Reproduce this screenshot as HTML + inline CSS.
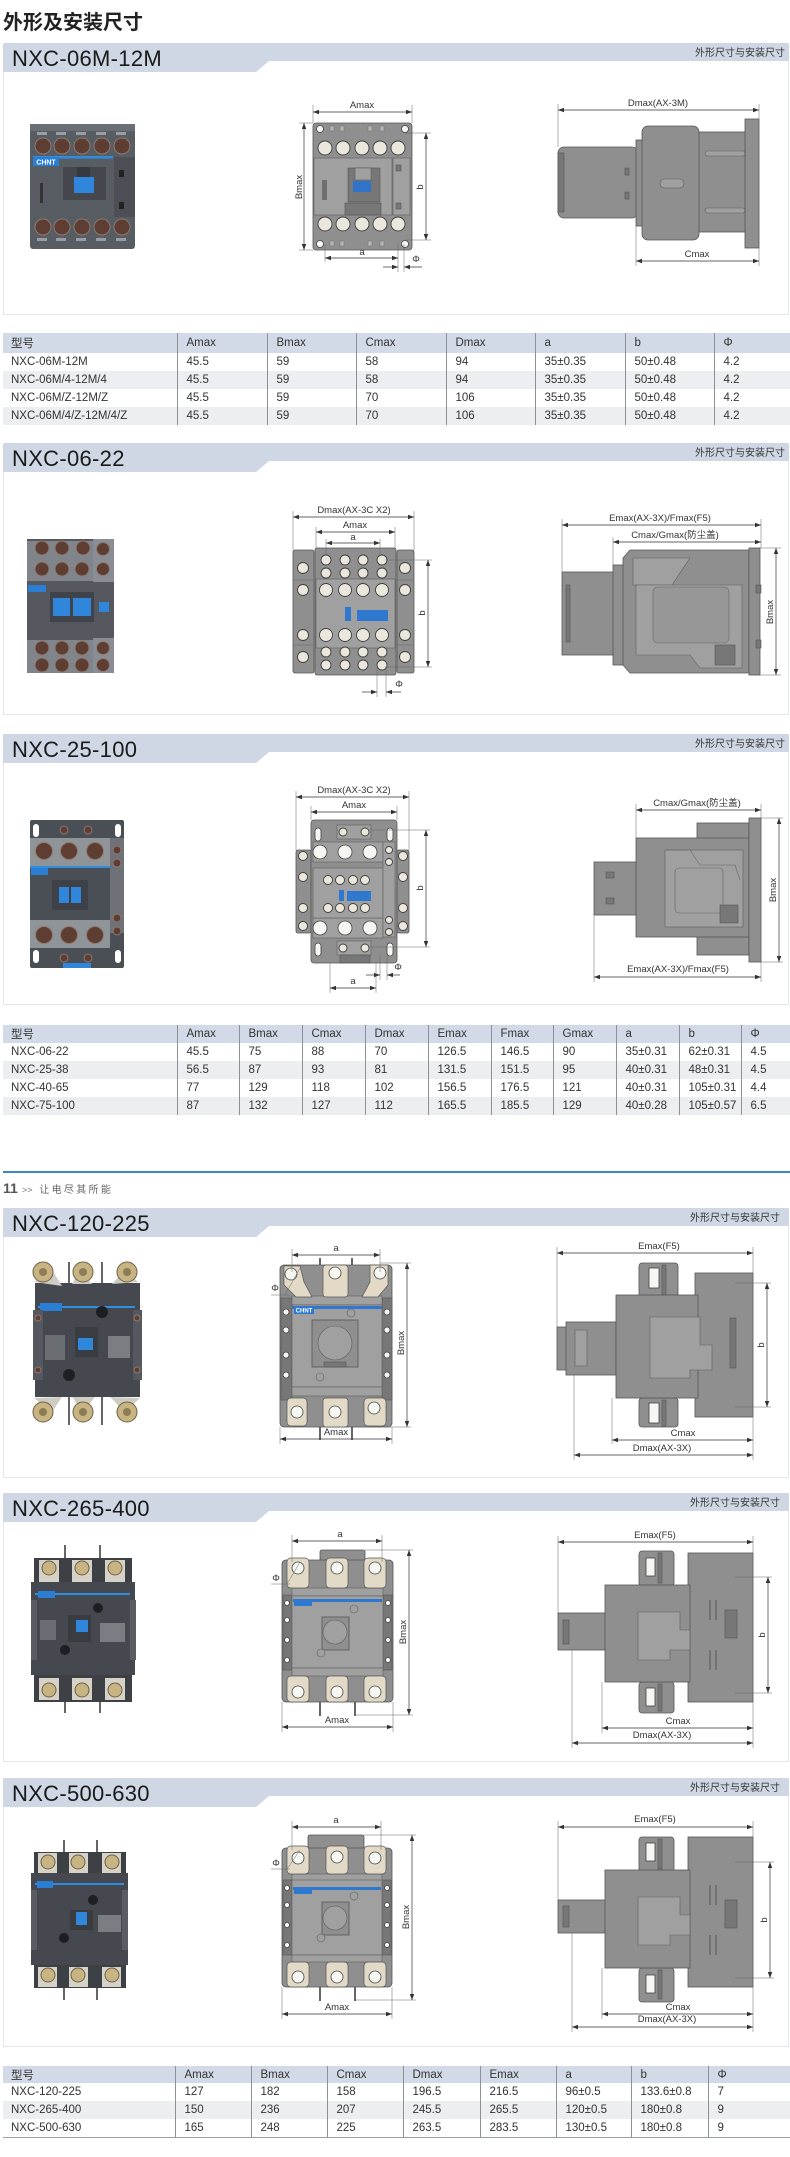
<!DOCTYPE html>
<html><head><meta charset="utf-8">
<style>
*{margin:0;padding:0;box-sizing:border-box}
html,body{width:790px;height:2157px;background:#fff;overflow:hidden}
body{position:relative;font-family:"Liberation Sans","Noto Sans CJK SC",sans-serif;color:#333}
.h1{position:absolute;left:3px;top:9px;font-size:20px;font-weight:bold;line-height:24px;color:#222;font-family:"Noto Sans CJK SC","WenQuanYi Zen Hei",sans-serif}
.sec{position:absolute;left:3px;width:786px;border:1px solid #e3e6ea;border-top:none;background:#fff}
.band{position:absolute;left:-1px;right:-1px;top:0;height:18px;background:#ced7e3;border-radius:2px 2px 0 0}
.tab{position:absolute;left:-1px;top:18px;width:266px;height:11px;background:#ced7e3;clip-path:polygon(0 0,266px 0,253px 11px,0 11px)}
.nm{position:absolute;left:8px;top:5px;font-size:22px;line-height:22px;color:#1a1a1a;letter-spacing:.3px;white-space:nowrap;font-family:"Liberation Sans",sans-serif}
.lb{position:absolute;right:3px;top:3px;font-size:10px;line-height:12px;color:#333;font-family:"Noto Sans CJK SC",sans-serif;white-space:nowrap}
table{position:absolute;left:3px;border-collapse:collapse;font-size:11.5px;color:#333;table-layout:fixed}
td{padding:0 0 0 9px;white-space:nowrap;border-left:1px solid #8c9197;vertical-align:middle;overflow:hidden}
td:first-child{border-left:none;padding-left:8px}
tr.hd td{background:#d1dae6}
tr.g td{background:#eceef1}
.cj{font-family:"Noto Sans CJK SC",sans-serif}
.foot{position:absolute;left:3px;top:1180px;white-space:nowrap;color:#666}
svg{position:absolute;left:0;top:0}
</style></head>
<body>
<div class="h1">外形及安装尺寸</div>

<div class="sec" style="top:43px;height:272px"><div class="band"></div><div class="tab"></div><div class="nm">NXC-06M-12M</div><div class="lb">外形尺寸与安装尺寸</div></div>
<div class="sec" style="top:443px;height:272px"><div class="band"></div><div class="tab"></div><div class="nm">NXC-06-22</div><div class="lb">外形尺寸与安装尺寸</div></div>
<div class="sec" style="top:734px;height:271px"><div class="band"></div><div class="tab"></div><div class="nm">NXC-25-100</div><div class="lb">外形尺寸与安装尺寸</div></div>
<div class="sec" style="top:1208px;height:270px"><div class="band"></div><div class="tab"></div><div class="nm">NXC-120-225</div><div class="lb" style="right:8px">外形尺寸与安装尺寸</div></div>
<div class="sec" style="top:1493px;height:269px"><div class="band"></div><div class="tab"></div><div class="nm">NXC-265-400</div><div class="lb" style="right:8px">外形尺寸与安装尺寸</div></div>
<div class="sec" style="top:1778px;height:269px"><div class="band"></div><div class="tab"></div><div class="nm">NXC-500-630</div><div class="lb" style="right:8px">外形尺寸与安装尺寸</div></div>

<table style="top:333px;width:787px">
<colgroup><col style="width:174px"><col style="width:90px"><col style="width:89px"><col style="width:90px"><col style="width:89px"><col style="width:90px"><col style="width:89px"><col style="width:76px"></colgroup>
<tr class="hd" style="height:20px"><td class="cj">型号</td><td>Amax</td><td>Bmax</td><td>Cmax</td><td>Dmax</td><td>a</td><td>b</td><td>Φ</td></tr>
<tr style="height:18px"><td>NXC-06M-12M</td><td>45.5</td><td>59</td><td>58</td><td>94</td><td>35±0.35</td><td>50±0.48</td><td>4.2</td></tr>
<tr class="g" style="height:18px"><td>NXC-06M/4-12M/4</td><td>45.5</td><td>59</td><td>58</td><td>94</td><td>35±0.35</td><td>50±0.48</td><td>4.2</td></tr>
<tr style="height:18px"><td>NXC-06M/Z-12M/Z</td><td>45.5</td><td>59</td><td>70</td><td>106</td><td>35±0.35</td><td>50±0.48</td><td>4.2</td></tr>
<tr class="g" style="height:18px"><td>NXC-06M/4/Z-12M/4/Z</td><td>45.5</td><td>59</td><td>70</td><td>106</td><td>35±0.35</td><td>50±0.48</td><td>4.2</td></tr>
</table>

<table style="top:1025px;width:787px">
<colgroup><col style="width:174px"><col style="width:62px"><col style="width:63px"><col style="width:63px"><col style="width:63px"><col style="width:63px"><col style="width:62px"><col style="width:63px"><col style="width:63px"><col style="width:62px"><col style="width:49px"></colgroup>
<tr class="hd" style="height:18px"><td class="cj">型号</td><td>Amax</td><td>Bmax</td><td>Cmax</td><td>Dmax</td><td>Emax</td><td>Fmax</td><td>Gmax</td><td>a</td><td>b</td><td>Φ</td></tr>
<tr style="height:18px"><td>NXC-06-22</td><td>45.5</td><td>75</td><td>88</td><td>70</td><td>126.5</td><td>146.5</td><td>90</td><td>35±0.31</td><td>62±0.31</td><td>4.5</td></tr>
<tr class="g" style="height:18px"><td>NXC-25-38</td><td>56.5</td><td>87</td><td>93</td><td>81</td><td>131.5</td><td>151.5</td><td>95</td><td>40±0.31</td><td>48±0.31</td><td>4.5</td></tr>
<tr style="height:18px"><td>NXC-40-65</td><td>77</td><td>129</td><td>118</td><td>102</td><td>156.5</td><td>176.5</td><td>121</td><td>40±0.31</td><td>105±0.31</td><td>4.4</td></tr>
<tr class="g" style="height:18px"><td>NXC-75-100</td><td>87</td><td>132</td><td>127</td><td>112</td><td>165.5</td><td>185.5</td><td>129</td><td>40±0.28</td><td>105±0.57</td><td>6.5</td></tr>
</table>

<table style="top:2066px;width:787px;border-bottom:1px solid #9aa0a6">
<colgroup><col style="width:172px"><col style="width:76px"><col style="width:76px"><col style="width:76px"><col style="width:77px"><col style="width:76px"><col style="width:75px"><col style="width:77px"><col style="width:82px"></colgroup>
<tr class="hd" style="height:17px"><td class="cj">型号</td><td>Amax</td><td>Bmax</td><td>Cmax</td><td>Dmax</td><td>Emax</td><td>a</td><td>b</td><td>Φ</td></tr>
<tr style="height:18px"><td>NXC-120-225</td><td>127</td><td>182</td><td>158</td><td>196.5</td><td>216.5</td><td>96±0.5</td><td>133.6±0.8</td><td>7</td></tr>
<tr class="g" style="height:18px"><td>NXC-265-400</td><td>150</td><td>236</td><td>207</td><td>245.5</td><td>265.5</td><td>120±0.5</td><td>180±0.8</td><td>9</td></tr>
<tr style="height:18px"><td>NXC-500-630</td><td>165</td><td>248</td><td>225</td><td>263.5</td><td>283.5</td><td>130±0.5</td><td>180±0.8</td><td>9</td></tr>
</table>

<div style="position:absolute;left:3px;top:1171px;width:787px;height:2px;background:#3a87c8"></div>
<div class="foot"><span style="font-size:14px;font-weight:bold;color:#555;font-family:'Liberation Sans',sans-serif">11</span><span style="font-size:9px;color:#777;margin-left:4px;font-family:'Liberation Sans',sans-serif">&gt;&gt;</span><span class="cj" style="font-size:10px;letter-spacing:2.3px;color:#666;margin-left:7px">让电尽其所能</span></div>

<svg width="790" height="2157" viewBox="0 0 790 2157" xmlns="http://www.w3.org/2000/svg">
<defs>
<marker id="a" viewBox="0 0 8 6" refX="8" refY="3" markerWidth="6" markerHeight="4.5" markerUnits="userSpaceOnUse" orient="auto-start-reverse"><path d="M0,0L8,3L0,6z" fill="#333"/></marker>
</defs>
<style>
.d{stroke:#333;stroke-width:.7;marker-start:url(#a);marker-end:url(#a)}
.d1{stroke:#333;stroke-width:.7;marker-end:url(#a)}
.e{stroke:#666;stroke-width:.5}
.b{fill:#8f8f8f;stroke:#555;stroke-width:.8}
.p{fill:#a0a0a0;stroke:#5e5e5e;stroke-width:.6}
.dk{fill:#777;stroke:#555;stroke-width:.6}
.t{fill:#ebe7dc;stroke:#3f3f3f;stroke-width:.9}
.w{fill:#f6f6f2;stroke:#444;stroke-width:.8}
.lg{fill:#e2dac6;stroke:#555;stroke-width:.7}
.l{font-family:"Liberation Sans","Noto Sans CJK SC",sans-serif;font-size:9.5px;fill:#333;text-anchor:middle}
.bl{fill:#2e78cf}
.br{fill:#5e3d33;stroke:#8d7a70;stroke-width:1}
.nut{fill:#c8b482;stroke:#6d6048;stroke-width:1}
.pin{stroke:#666;stroke-width:2}
</style>

<!-- ========== SECTION 1 ========== -->
<g>
<rect x="30" y="124" width="105" height="125" rx="3" fill="#585c63"/>
<rect x="30" y="124" width="105" height="7" fill="#6a6e75"/>
<g fill="#9a9ea4"><rect x="37" y="132" width="10" height="3"/><rect x="56" y="132" width="10" height="3"/><rect x="76" y="132" width="10" height="3"/><rect x="96" y="132" width="10" height="3"/><rect x="116" y="132" width="10" height="3"/>
<rect x="37" y="238" width="10" height="3"/><rect x="56" y="238" width="10" height="3"/><rect x="76" y="238" width="10" height="3"/><rect x="96" y="238" width="10" height="3"/><rect x="116" y="238" width="10" height="3"/></g>
<g class="br"><circle cx="43" cy="146" r="8"/><circle cx="62" cy="146" r="8"/><circle cx="82" cy="146" r="8"/><circle cx="102" cy="146" r="8"/><circle cx="122" cy="146" r="8"/>
<circle cx="43" cy="227" r="8"/><circle cx="62" cy="227" r="8"/><circle cx="82" cy="227" r="8"/><circle cx="102" cy="227" r="8"/><circle cx="122" cy="227" r="8"/></g>
<rect x="33" y="156" width="80" height="2.5" fill="#2f8ee0"/>
<rect x="33" y="157" width="26" height="9" fill="#2a7fd4"/><text x="46" y="164.5" font-size="7" fill="#fff" font-weight="bold" text-anchor="middle" font-family="Liberation Sans">CHNT</text>
<rect x="63" y="167" width="43" height="33" fill="#44474d"/><rect x="77" y="167" width="13" height="10" fill="#36393e"/>
<rect x="74" y="177" width="20" height="16" fill="#2f86da"/>
<rect x="40" y="183" width="3" height="20" fill="#333"/>
<rect x="114" y="157" width="21" height="60" fill="#4c4f55"/><rect x="119" y="170" width="5" height="7" fill="#222"/><rect x="119" y="202" width="5" height="7" fill="#222"/>
</g>
<g>
<rect class="b" x="313" y="123" width="99" height="127" rx="3"/>
<g fill="#b5b5b5" stroke="#666" stroke-width=".4"><rect x="330" y="126" width="4" height="5"/><rect x="340" y="126" width="4" height="5"/><rect x="368" y="126" width="4" height="5"/><rect x="380" y="126" width="4" height="5"/><rect x="330" y="241" width="4" height="5"/><rect x="340" y="241" width="4" height="5"/><rect x="368" y="241" width="4" height="5"/><rect x="380" y="241" width="4" height="5"/></g>
<circle class="w" cx="320" cy="129" r="3.5"/><circle class="w" cx="405" cy="129" r="3.5"/><circle class="w" cx="320" cy="244" r="3.5"/><circle class="w" cx="405" cy="244" r="3.5"/>
<g class="t"><circle cx="325" cy="148" r="7"/><circle cx="343" cy="148" r="7"/><circle cx="362" cy="148" r="7"/><circle cx="380" cy="148" r="7"/><circle cx="398" cy="148" r="7"/>
<circle cx="325" cy="224" r="7"/><circle cx="343" cy="224" r="7"/><circle cx="362" cy="224" r="7"/><circle cx="380" cy="224" r="7"/><circle cx="398" cy="224" r="7"/></g>
<rect class="p" x="314" y="158" width="78" height="57"/>
<rect class="p" x="393" y="158" width="17" height="57"/>
<rect class="dk" x="396" y="165" width="5" height="6"/><rect class="dk" x="396" y="203" width="5" height="6"/>
<rect class="dk" x="348" y="168" width="32" height="34"/><rect class="p" x="355" y="168" width="16" height="12"/>
<rect x="353" y="181" width="18" height="11" fill="#2f74c9"/>
<rect class="dk" x="345" y="203" width="36" height="12"/>
<rect x="322" y="180" width="5" height="20" fill="#6f6f6f"/>
<line class="e" x1="313" y1="105" x2="313" y2="123"/><line class="e" x1="412" y1="105" x2="412" y2="123"/>
<line class="d" x1="313" y1="112" x2="412" y2="112"/><text class="l" x="362" y="108">Amax</text>
<line class="e" x1="299" y1="123" x2="313" y2="123"/><line class="e" x1="299" y1="250" x2="313" y2="250"/>
<line class="d" x1="304" y1="123" x2="304" y2="250"/><text class="l" transform="rotate(-90 302 187)" x="302" y="187">Bmax</text>
<line class="e" x1="405" y1="133" x2="431" y2="133"/><line class="e" x1="405" y1="240" x2="431" y2="240"/>
<line class="d" x1="426" y1="133" x2="426" y2="240"/><text class="l" transform="rotate(-90 423 187)" x="423" y="187">b</text>
<line class="e" x1="325" y1="244" x2="325" y2="262"/><line class="e" x1="398" y1="244" x2="398" y2="272"/><line class="e" x1="404" y1="244" x2="404" y2="272"/>
<line class="d" x1="325" y1="258" x2="398" y2="258"/><text class="l" x="362" y="255">a</text>
<line class="d1" x1="383" y1="267" x2="398" y2="267"/><line class="d1" x1="422" y1="267" x2="404" y2="267"/><text class="l" x="416" y="262">Φ</text>
</g>
<g>
<rect class="b" x="558" y="147" width="80" height="71" rx="6"/>
<rect class="dk" x="558" y="153" width="6" height="59"/>
<rect class="dk" x="625" y="168" width="4" height="7"/><rect class="dk" x="625" y="192" width="4" height="7"/>
<rect class="b" x="636" y="140" width="8" height="86"/>
<rect class="b" x="698" y="132" width="48" height="100"/>
<rect class="p" x="705" y="151" width="40" height="5" rx="2.5"/><rect class="p" x="705" y="208" width="40" height="5" rx="2.5"/>
<rect class="b" x="642" y="126" width="57" height="114" rx="6"/>
<rect class="p" x="660" y="179" width="24" height="9" rx="4.5"/>
<rect class="b" x="745" y="119" width="14" height="129"/>
<line class="e" x1="558" y1="104" x2="558" y2="147"/><line class="e" x1="759" y1="104" x2="759" y2="119"/>
<line class="d" x1="558" y1="110" x2="759" y2="110"/><text class="l" x="658" y="106">Dmax(AX-3M)</text>
<line class="e" x1="636" y1="226" x2="636" y2="266"/><line class="e" x1="759" y1="248" x2="759" y2="266"/>
<line class="d" x1="636" y1="261" x2="759" y2="261"/><text class="l" x="697" y="257">Cmax</text>
</g>

<!-- ========== SECTION 2 ========== -->
<g>
<rect x="27" y="539" width="87" height="134" fill="#55595f"/>
<rect x="27" y="541" width="66" height="40" fill="#80858b"/>
<rect x="93" y="539" width="21" height="43" fill="#8a8e94"/>
<g class="br"><circle cx="42" cy="548" r="7"/><circle cx="62" cy="548" r="7"/><circle cx="83" cy="548" r="7"/><circle cx="42" cy="569" r="7"/><circle cx="62" cy="569" r="7"/><circle cx="82" cy="569" r="7"/><circle cx="103" cy="549" r="6.5"/><circle cx="103" cy="569" r="6.5"/></g>
<rect x="28" y="585" width="18" height="7" fill="#2a7fd4"/>
<rect x="50" y="592" width="44" height="30" fill="#404349"/>
<rect x="53" y="598" width="17" height="18" fill="#2f86da"/><rect x="73" y="598" width="18" height="18" fill="#2f86da"/>
<rect x="99" y="602" width="10" height="10" fill="#2f86da"/>
<rect x="27" y="640" width="66" height="33" fill="#80858b"/><rect x="93" y="638" width="21" height="35" fill="#8a8e94"/>
<g class="br"><circle cx="42" cy="648" r="7"/><circle cx="62" cy="648" r="7"/><circle cx="82" cy="648" r="7"/><circle cx="103" cy="648" r="6.5"/><circle cx="42" cy="665" r="7"/><circle cx="62" cy="665" r="7"/><circle cx="82" cy="665" r="7"/><circle cx="103" cy="665" r="6.5"/></g>
</g>
<g>
<rect class="b" x="293" y="550" width="21" height="123" rx="2"/><rect class="b" x="397" y="550" width="17" height="123" rx="2"/>
<line class="e" x1="293" y1="580" x2="314" y2="580"/><line class="e" x1="293" y1="645" x2="314" y2="645"/><line class="e" x1="397" y1="580" x2="414" y2="580"/><line class="e" x1="397" y1="645" x2="414" y2="645"/>
<rect class="b" x="315" y="548" width="81" height="127" rx="2"/>
<rect class="p" x="316" y="579" width="79" height="69"/>
<g class="t"><circle cx="326" cy="560" r="5"/><circle cx="345" cy="560" r="5"/><circle cx="363" cy="560" r="5"/><circle cx="382" cy="560" r="5"/>
<circle cx="326" cy="573" r="5"/><circle cx="345" cy="573" r="5"/><circle cx="363" cy="573" r="5"/><circle cx="382" cy="573" r="5"/>
<circle cx="326" cy="590" r="6.5"/><circle cx="345" cy="590" r="6.5"/><circle cx="363" cy="590" r="6.5"/><circle cx="382" cy="590" r="6.5"/>
<circle cx="326" cy="635" r="6.5"/><circle cx="345" cy="635" r="6.5"/><circle cx="363" cy="635" r="6.5"/><circle cx="382" cy="635" r="6.5"/>
<circle cx="326" cy="652" r="5"/><circle cx="345" cy="652" r="5"/><circle cx="363" cy="652" r="5"/><circle cx="382" cy="652" r="5"/>
<circle cx="326" cy="665" r="5"/><circle cx="345" cy="665" r="5"/><circle cx="363" cy="665" r="5"/><circle cx="382" cy="665" r="5"/>
<circle cx="303" cy="568" r="5.5"/><circle cx="303" cy="590" r="5.5"/><circle cx="303" cy="635" r="5.5"/><circle cx="303" cy="657" r="5.5"/>
<circle cx="405" cy="568" r="5.5"/><circle cx="405" cy="590" r="5.5"/><circle cx="405" cy="635" r="5.5"/><circle cx="405" cy="657" r="5.5"/></g>
<rect class="bl" x="345" y="607" width="6" height="14"/><rect class="bl" x="357" y="610" width="31" height="11"/>
<line class="e" x1="293" y1="511" x2="293" y2="550"/><line class="e" x1="414" y1="511" x2="414" y2="550"/>
<line class="d" x1="293" y1="517" x2="414" y2="517"/><text class="l" x="354" y="513">Dmax(AX-3C X2)</text>
<line class="e" x1="316" y1="527" x2="316" y2="548"/><line class="e" x1="395" y1="527" x2="395" y2="548"/>
<line class="d" x1="316" y1="532" x2="395" y2="532"/><text class="l" x="355" y="528">Amax</text>
<line class="e" x1="326" y1="539" x2="326" y2="555"/><line class="e" x1="380" y1="539" x2="380" y2="555"/>
<line class="d" x1="326" y1="543" x2="380" y2="543"/><text class="l" x="353" y="540">a</text>
<line class="e" x1="385" y1="560" x2="432" y2="560"/><line class="e" x1="385" y1="667" x2="432" y2="667"/>
<line class="d" x1="428" y1="560" x2="428" y2="667"/><text class="l" transform="rotate(-90 425 613)" x="425" y="613">b</text>
<line class="e" x1="377" y1="668" x2="377" y2="697"/><line class="e" x1="386" y1="668" x2="386" y2="697"/>
<line class="d1" x1="362" y1="692" x2="377" y2="692"/><line class="d1" x1="401" y1="692" x2="386" y2="692"/><text class="l" x="399" y="687">Φ</text>
</g>
<g>
<rect class="b" x="562" y="572" width="52" height="83"/>
<rect class="dk" x="566" y="585" width="4" height="57"/>
<rect class="b" x="613" y="565" width="12" height="100"/>
<path class="b" d="M630 550 H749 V673 H630 L623 665 V558 Z"/>
<path class="p" d="M633 558 H690 L672 585 H633 Z"/>
<path class="p" d="M636 585 H742 V668 H700 L690 655 H636 Z"/>
<rect fill="#979797" stroke="#666" stroke-width=".6" x="653" y="587" width="76" height="56" rx="5"/>
<rect class="dk" x="715" y="645" width="20" height="20"/>
<rect class="b" x="749" y="548" width="11" height="127"/>
<rect class="dk" x="756" y="585" width="5" height="8"/><rect class="dk" x="756" y="640" width="5" height="8"/>
<line class="e" x1="562" y1="519" x2="562" y2="572"/><line class="e" x1="761" y1="519" x2="761" y2="548"/>
<line class="d" x1="562" y1="525" x2="761" y2="525"/><text class="l" x="660" y="521">Emax(AX-3X)/Fmax(F5)</text>
<line class="e" x1="613" y1="537" x2="613" y2="565"/>
<line class="d" x1="613" y1="542" x2="761" y2="542"/><text class="l" x="675" y="538">Cmax/Gmax(防尘盖)</text>
<line class="e" x1="760" y1="548" x2="781" y2="548"/><line class="e" x1="760" y1="675" x2="781" y2="675"/>
<line class="d" x1="776" y1="548" x2="776" y2="675"/><text class="l" transform="rotate(-90 773 612)" x="773" y="612">Bmax</text>
</g>

<!-- ========== SECTION 3 ========== -->
<g>
<rect x="30" y="820" width="94" height="148" rx="2" fill="#4a4e55"/>
<rect x="33" y="824" width="6" height="13" rx="3" fill="#fff"/><rect x="115" y="824" width="6" height="13" rx="3" fill="#fff"/>
<rect x="33" y="950" width="6" height="13" rx="3" fill="#fff"/><rect x="115" y="950" width="6" height="13" rx="3" fill="#fff"/>
<g class="br"><circle cx="64" cy="830" r="4"/><circle cx="88" cy="830" r="4"/><circle cx="64" cy="958" r="4"/><circle cx="88" cy="958" r="4"/></g>
<rect x="30" y="838" width="80" height="28" fill="#8f9499"/>
<rect x="30" y="920" width="80" height="28" fill="#8f9499"/>
<g class="br"><circle cx="44" cy="851" r="8.5"/><circle cx="69" cy="851" r="8.5"/><circle cx="95" cy="851" r="8.5"/><circle cx="44" cy="935" r="8.5"/><circle cx="69" cy="935" r="8.5"/><circle cx="95" cy="935" r="8.5"/></g>
<rect x="30" y="866" width="80" height="2" fill="#2f8ee0"/><rect x="31" y="868" width="17" height="7" fill="#2a7fd4"/>
<rect x="52" y="880" width="36" height="30" fill="#3e4147"/>
<rect x="59" y="887" width="10" height="16" fill="#2f86da"/><rect x="71" y="887" width="10" height="16" fill="#2f86da"/>
<rect x="110" y="838" width="14" height="95" fill="#6e7278"/>
<g class="br"><circle cx="117" cy="850" r="4"/><circle cx="117" cy="863" r="4"/><circle cx="117" cy="918" r="4"/><circle cx="117" cy="931" r="4"/></g>
<rect x="63" y="963" width="28" height="5" fill="#2f86da"/>
</g>
<g>
<rect class="b" x="296" y="850" width="15" height="83" rx="2"/><rect class="b" x="397" y="850" width="12" height="83" rx="2"/>
<rect class="b" x="311" y="820" width="86" height="143" rx="3"/>
<rect class="w" x="315" y="828" width="6" height="13" rx="3"/><rect class="w" x="387" y="828" width="6" height="13" rx="3"/>
<rect class="w" x="315" y="943" width="6" height="13" rx="3"/><rect class="w" x="387" y="943" width="6" height="13" rx="3"/>
<rect class="p" x="313" y="842" width="70" height="20"/><rect class="p" x="313" y="918" width="70" height="20"/>
<rect class="p" x="337" y="825" width="34" height="14"/><rect class="p" x="337" y="941" width="34" height="14"/>
<rect class="p" x="313" y="868" width="70" height="50"/>
<rect class="p" x="383" y="842" width="12" height="95"/>
<g class="w"><circle cx="320" cy="852" r="7"/><circle cx="345" cy="852" r="7"/><circle cx="370" cy="852" r="7"/><circle cx="320" cy="928" r="7"/><circle cx="345" cy="928" r="7"/><circle cx="370" cy="928" r="7"/></g>
<g class="t"><circle cx="343" cy="832" r="4"/><circle cx="365" cy="832" r="4"/><circle cx="343" cy="948" r="4"/><circle cx="365" cy="948" r="4"/>
<circle cx="328" cy="880" r="4.5"/><circle cx="340" cy="880" r="4.5"/><circle cx="353" cy="880" r="4.5"/><circle cx="365" cy="880" r="4.5"/>
<circle cx="328" cy="908" r="4.5"/><circle cx="340" cy="908" r="4.5"/><circle cx="353" cy="908" r="4.5"/><circle cx="365" cy="908" r="4.5"/>
<circle cx="389" cy="850" r="3.5"/><circle cx="389" cy="862" r="3.5"/><circle cx="389" cy="920" r="3.5"/><circle cx="389" cy="932" r="3.5"/>
<circle cx="303" cy="856" r="4.5"/><circle cx="303" cy="877" r="4.5"/><circle cx="303" cy="908" r="4.5"/><circle cx="303" cy="926" r="4.5"/>
<circle cx="403" cy="856" r="4.5"/><circle cx="403" cy="877" r="4.5"/><circle cx="403" cy="908" r="4.5"/><circle cx="403" cy="926" r="4.5"/></g>
<rect class="bl" x="339" y="890" width="5" height="11"/><rect class="bl" x="347" y="891" width="24" height="10"/>
<rect class="dk" x="340" y="955" width="30" height="8"/>
<line class="e" x1="296" y1="791" x2="296" y2="850"/><line class="e" x1="409" y1="791" x2="409" y2="850"/>
<line class="d" x1="296" y1="797" x2="409" y2="797"/><text class="l" x="354" y="793">Dmax(AX-3C X2)</text>
<line class="e" x1="311" y1="806" x2="311" y2="820"/><line class="e" x1="397" y1="806" x2="397" y2="820"/>
<line class="d" x1="311" y1="812" x2="397" y2="812"/><text class="l" x="354" y="808">Amax</text>
<line class="e" x1="370" y1="830" x2="430" y2="830"/><line class="e" x1="370" y1="947" x2="430" y2="947"/>
<line class="d" x1="426" y1="830" x2="426" y2="947"/><text class="l" transform="rotate(-90 423 888)" x="423" y="888">b</text>
<line class="e" x1="380" y1="955" x2="380" y2="980"/><line class="e" x1="387" y1="955" x2="387" y2="980"/>
<line class="d1" x1="366" y1="975" x2="380" y2="975"/><line class="d1" x1="400" y1="975" x2="387" y2="975"/><text class="l" x="398" y="970">Φ</text>
<line class="e" x1="330" y1="963" x2="330" y2="993"/><line class="e" x1="376" y1="963" x2="376" y2="993"/>
<line class="d" x1="330" y1="988" x2="376" y2="988"/><text class="l" x="353" y="984">a</text>
</g>
<g>
<rect class="b" x="594" y="862" width="43" height="53"/>
<rect class="dk" x="606" y="872" width="8" height="6"/><rect class="dk" x="606" y="898" width="8" height="6"/>
<rect class="b" x="697" y="823" width="52" height="16"/><rect class="b" x="697" y="936" width="52" height="19"/>
<rect class="b" x="636" y="838" width="113" height="99"/>
<rect class="p" x="665" y="850" width="78" height="77"/>
<path d="M665 850 L690 850 L700 865 L735 865 L740 880" fill="none" stroke="#666" stroke-width=".6"/>
<rect fill="none" stroke="#666" stroke-width=".6" x="675" y="868" width="48" height="45" rx="4"/>
<rect class="dk" x="720" y="905" width="18" height="18"/>
<rect class="b" x="749" y="818" width="12" height="144"/>
<line class="e" x1="636" y1="804" x2="636" y2="838"/><line class="e" x1="761" y1="804" x2="761" y2="818"/>
<line class="d" x1="636" y1="810" x2="761" y2="810"/><text class="l" x="697" y="806">Cmax/Gmax(防尘盖)</text>
<line class="e" x1="594" y1="915" x2="594" y2="982"/><line class="e" x1="761" y1="962" x2="761" y2="982"/>
<line class="d" x1="594" y1="977" x2="761" y2="977"/><text class="l" x="678" y="972">Emax(AX-3X)/Fmax(F5)</text>
<line class="e" x1="761" y1="818" x2="783" y2="818"/><line class="e" x1="761" y1="962" x2="783" y2="962"/>
<line class="d" x1="779" y1="818" x2="779" y2="962"/><text class="l" transform="rotate(-90 776 890)" x="776" y="890">Bmax</text>
</g>

<!-- ========== SECTION 4 ========== -->
<g>
<line class="pin" x1="69" y1="1262" x2="69" y2="1292"/><line class="pin" x1="102" y1="1262" x2="102" y2="1292"/>
<line class="pin" x1="69" y1="1395" x2="69" y2="1425"/><line class="pin" x1="102" y1="1395" x2="102" y2="1425"/>
<path d="M38 1282 L48 1272 L60 1285 L55 1292 Z" fill="#c9c7c0"/>
<rect x="35" y="1283" width="105" height="114" fill="#45484e"/>
<path d="M34 1282 L52 1270 L62 1286 Z M72 1284 L80 1270 L92 1284 Z M112 1284 L125 1270 L138 1282 Z" fill="#cfccc4"/>
<path d="M34 1398 L52 1412 L62 1397 Z M72 1397 L83 1412 L95 1397 Z M110 1397 L125 1412 L140 1398 Z" fill="#cfccc4"/>
<g class="nut"><circle cx="43" cy="1272" r="10"/><circle cx="83" cy="1272" r="10"/><circle cx="127" cy="1272" r="10"/><circle cx="43" cy="1412" r="10"/><circle cx="83" cy="1412" r="10"/><circle cx="127" cy="1412" r="10"/></g>
<g fill="#8c7c55"><circle cx="43" cy="1272" r="4"/><circle cx="83" cy="1272" r="4"/><circle cx="127" cy="1272" r="4"/><circle cx="43" cy="1412" r="4"/><circle cx="83" cy="1412" r="4"/><circle cx="127" cy="1412" r="4"/></g>
<rect x="38" y="1306" width="97" height="2" fill="#2f8ee0"/><rect x="40" y="1303" width="22" height="8" fill="#2a7fd4"/>
<circle cx="102" cy="1312" r="6" fill="#1e1f22"/><circle cx="69" cy="1375" r="6" fill="#1e1f22"/>
<rect x="75" y="1327" width="23" height="30" fill="#393c41"/><rect x="78" y="1338" width="15" height="12" fill="#2f86da"/>
<rect x="45" y="1335" width="20" height="25" fill="#6a6d72"/><rect x="108" y="1336" width="22" height="22" fill="#7a7d82"/>
<rect x="33" y="1310" width="10" height="70" fill="#55585e"/><rect x="133" y="1310" width="9" height="70" fill="#55585e"/>
<g class="br"><circle cx="38" cy="1318" r="3"/><circle cx="38" cy="1370" r="3"/><circle cx="137" cy="1318" r="3"/><circle cx="137" cy="1370" r="3"/></g>
</g>
<g>
<line class="pin" x1="320" y1="1258" x2="320" y2="1268"/><line class="pin" x1="352" y1="1258" x2="352" y2="1268"/>
<line class="pin" x1="320" y1="1425" x2="320" y2="1440"/><line class="pin" x1="352" y1="1425" x2="352" y2="1440"/>
<rect class="b" x="280" y="1265" width="112" height="162" rx="4"/>
<rect class="dk" x="281" y="1298" width="11" height="102"/><rect class="dk" x="382" y="1298" width="10" height="102"/>
<g class="w"><circle cx="286" cy="1312" r="3"/><circle cx="286" cy="1330" r="3"/><circle cx="286" cy="1355" r="3"/><circle cx="286" cy="1375" r="3"/><circle cx="387" cy="1312" r="3"/><circle cx="387" cy="1330" r="3"/><circle cx="387" cy="1355" r="3"/><circle cx="387" cy="1375" r="3"/></g>
<rect class="p" x="292" y="1296" width="90" height="9"/>
<rect class="p" x="292" y="1305" width="90" height="82"/>
<rect class="p" x="292" y="1387" width="90" height="9"/>
<rect class="bl" x="292" y="1306" width="90" height="3"/><rect class="bl" x="294" y="1306" width="20" height="8"/>
<text x="304" y="1312.5" font-size="6" fill="#fff" font-weight="bold" text-anchor="middle" font-family="Liberation Sans">CHNT</text>
<rect class="b" x="312" y="1320" width="46" height="47"/><circle class="p" cx="335" cy="1343" r="17"/>
<rect class="dk" x="324" y="1362" width="22" height="5"/>
<circle class="p" cx="351" cy="1313" r="4"/><circle class="p" cx="320" cy="1377" r="4"/>
<path class="lg" d="M284 1266 H300 L304 1282 L312 1297 H296 L284 1285 Z"/>
<rect class="lg" x="323" y="1265" width="25" height="32" rx="3"/>
<path class="lg" d="M370 1265 H388 V1285 L378 1297 H362 L370 1282 Z"/>
<rect class="lg" x="287" y="1398" width="20" height="28" rx="4"/><rect class="lg" x="323" y="1398" width="25" height="29" rx="3"/><rect class="lg" x="364" y="1398" width="22" height="28" rx="4"/>
<g class="w"><circle cx="291" cy="1274" r="6"/><circle cx="335" cy="1273" r="6"/><circle cx="380" cy="1273" r="6"/><circle cx="297" cy="1412" r="6"/><circle cx="335" cy="1412" r="6"/><circle cx="374" cy="1408" r="6"/></g>
<line class="e" x1="292" y1="1249" x2="292" y2="1272"/><line class="e" x1="380" y1="1249" x2="380" y2="1272"/>
<line class="d" x1="292" y1="1255" x2="380" y2="1255"/><text class="l" x="336" y="1251">a</text>
<line class="e" x1="380" y1="1263" x2="411" y2="1263"/><line class="e" x1="352" y1="1427" x2="411" y2="1427"/>
<line class="d" x1="407" y1="1263" x2="407" y2="1427"/><text class="l" transform="rotate(-90 404 1343)" x="404" y="1343">Bmax</text>
<line class="e" x1="280" y1="1427" x2="280" y2="1444"/><line class="e" x1="392" y1="1427" x2="392" y2="1444"/>
<line class="d" x1="280" y1="1439" x2="392" y2="1439"/><text class="l" x="336" y="1435">Amax</text>
<line class="e" x1="271" y1="1295" x2="290" y2="1295"/><line class="e" x1="285" y1="1295" x2="300" y2="1268"/><text class="l" x="275" y="1291">Φ</text>
</g>
<g>
<rect class="b" x="557" y="1327" width="10" height="43"/>
<rect class="b" x="566" y="1322" width="50" height="53"/><rect class="p" x="575" y="1330" width="12" height="36"/>
<rect class="b" x="695" y="1273" width="58" height="144"/>
<rect class="dk" x="730" y="1318" width="6" height="50"/>
<rect class="b" x="639" y="1263" width="39" height="34" rx="3"/><rect class="w" x="649" y="1268" width="10" height="20"/><rect class="dk" x="662" y="1265" width="4" height="30"/>
<rect class="b" x="639" y="1398" width="39" height="29" rx="3"/><rect class="w" x="649" y="1403" width="10" height="20"/><rect class="dk" x="662" y="1400" width="4" height="26"/>
<rect class="b" x="616" y="1295" width="82" height="103"/>
<path class="p" d="M650 1317 H700 V1345 H712 V1370 H690 V1378 H650 Z"/>
<line class="e" x1="557" y1="1247" x2="557" y2="1327"/><line class="e" x1="753" y1="1247" x2="753" y2="1273"/>
<line class="d" x1="557" y1="1253" x2="753" y2="1253"/><text class="l" x="659" y="1249">Emax(F5)</text>
<line class="e" x1="735" y1="1283" x2="771" y2="1283"/><line class="e" x1="735" y1="1407" x2="771" y2="1407"/>
<line class="d" x1="767" y1="1283" x2="767" y2="1407"/><text class="l" transform="rotate(-90 764 1345)" x="764" y="1345">b</text>
<line class="e" x1="612" y1="1398" x2="612" y2="1444"/><line class="e" x1="753" y1="1417" x2="753" y2="1460"/>
<line class="d" x1="612" y1="1440" x2="753" y2="1440"/><text class="l" x="683" y="1436">Cmax</text>
<line class="e" x1="574" y1="1375" x2="574" y2="1460"/>
<line class="d" x1="574" y1="1455" x2="753" y2="1455"/><text class="l" x="662" y="1451">Dmax(AX-3X)</text>
</g>

<!-- ========== SECTION 5 ========== -->
<g>
<line class="pin" x1="65" y1="1545" x2="65" y2="1565"/><line class="pin" x1="100" y1="1545" x2="100" y2="1565"/>
<line class="pin" x1="65" y1="1695" x2="65" y2="1713"/><line class="pin" x1="100" y1="1695" x2="100" y2="1713"/>
<rect x="34" y="1558" width="98" height="28" fill="#3d4045"/>
<rect x="34" y="1672" width="98" height="30" fill="#3d4045"/>
<rect x="31" y="1582" width="104" height="93" fill="#45484e"/>
<rect x="39" y="1560" width="20" height="22" fill="#d6d2c8"/><rect x="72" y="1560" width="20" height="22" fill="#d6d2c8"/><rect x="105" y="1560" width="20" height="22" fill="#d6d2c8"/>
<rect x="39" y="1678" width="20" height="22" fill="#d6d2c8"/><rect x="72" y="1678" width="20" height="22" fill="#d6d2c8"/><rect x="105" y="1678" width="20" height="22" fill="#d6d2c8"/>
<g class="nut"><circle cx="49" cy="1568" r="7"/><circle cx="82" cy="1568" r="7"/><circle cx="115" cy="1568" r="7"/><circle cx="49" cy="1690" r="7"/><circle cx="82" cy="1690" r="7"/><circle cx="115" cy="1690" r="7"/></g>
<rect x="35" y="1593" width="95" height="2" fill="#2f8ee0"/><rect x="38" y="1591" width="17" height="7" fill="#2a7fd4"/>
<circle cx="98" cy="1608" r="5" fill="#1e1f22"/><circle cx="65" cy="1650" r="5" fill="#1e1f22"/>
<rect x="68" y="1615" width="23" height="27" fill="#393c41"/><rect x="76" y="1620" width="12" height="12" fill="#2f86da"/>
<rect x="100" y="1623" width="25" height="19" fill="#7a7d82"/><rect x="40" y="1620" width="16" height="20" fill="#6a6d72"/>
<rect x="31" y="1600" width="6" height="60" fill="#5a5d63"/><rect x="130" y="1600" width="6" height="60" fill="#5a5d63"/>
</g>
<g>
<line class="pin" x1="320" y1="1700" x2="320" y2="1716"/><line class="pin" x1="355" y1="1700" x2="355" y2="1716"/>
<rect class="b" x="320" y="1550" width="45" height="12" rx="2"/>
<rect class="b" x="282" y="1560" width="111" height="142" rx="4"/>
<rect class="dk" x="283" y="1595" width="9" height="75"/><rect class="dk" x="383" y="1595" width="9" height="75"/>
<g class="w"><circle cx="287" cy="1603" r="2.5"/><circle cx="287" cy="1620" r="2.5"/><circle cx="287" cy="1640" r="2.5"/><circle cx="287" cy="1660" r="2.5"/><circle cx="388" cy="1603" r="2.5"/><circle cx="388" cy="1620" r="2.5"/><circle cx="388" cy="1640" r="2.5"/><circle cx="388" cy="1660" r="2.5"/></g>
<rect class="p" x="292" y="1588" width="91" height="8"/>
<rect class="p" x="292" y="1596" width="91" height="72"/>
<rect class="p" x="292" y="1668" width="91" height="8"/>
<rect class="bl" x="293" y="1599" width="89" height="3"/><rect class="bl" x="294" y="1599" width="18" height="7"/>
<rect class="b" x="322" y="1617" width="27" height="33"/><circle class="p" cx="335" cy="1632" r="12"/>
<circle class="p" cx="354" cy="1609" r="4"/><circle class="p" cx="321" cy="1653" r="4"/>
<rect class="lg" x="287" y="1558" width="22" height="30" rx="4"/><rect class="lg" x="326" y="1558" width="22" height="30" rx="4"/><rect class="lg" x="364" y="1558" width="22" height="30" rx="4"/>
<rect class="lg" x="287" y="1676" width="22" height="26" rx="4"/><rect class="lg" x="326" y="1676" width="22" height="26" rx="4"/><rect class="lg" x="364" y="1676" width="22" height="26" rx="4"/>
<g class="w"><circle cx="298" cy="1568" r="6"/><circle cx="337" cy="1568" r="6"/><circle cx="375" cy="1568" r="6"/><circle cx="298" cy="1692" r="6"/><circle cx="337" cy="1692" r="6"/><circle cx="375" cy="1692" r="6"/></g>
<line class="e" x1="292" y1="1535" x2="292" y2="1562"/><line class="e" x1="382" y1="1535" x2="382" y2="1562"/>
<line class="d" x1="292" y1="1541" x2="382" y2="1541"/><text class="l" x="340" y="1537">a</text>
<line class="e" x1="365" y1="1550" x2="413" y2="1550"/><line class="e" x1="355" y1="1715" x2="413" y2="1715"/>
<line class="d" x1="409" y1="1550" x2="409" y2="1715"/><text class="l" transform="rotate(-90 406 1632)" x="406" y="1632">Bmax</text>
<line class="e" x1="282" y1="1702" x2="282" y2="1732"/><line class="e" x1="393" y1="1702" x2="393" y2="1732"/>
<line class="d" x1="282" y1="1727" x2="393" y2="1727"/><text class="l" x="337" y="1723">Amax</text>
<line class="e" x1="271" y1="1584" x2="290" y2="1584"/><line class="e" x1="287" y1="1584" x2="300" y2="1562"/><text class="l" x="276" y="1581">Φ</text>
</g>
<g>
<rect class="b" x="558" y="1613" width="48" height="37"/><rect class="dk" x="563" y="1620" width="6" height="24"/>
<rect class="b" x="688" y="1553" width="65" height="149"/>
<rect class="dk" x="725" y="1610" width="12" height="28"/>
<g stroke="#555" stroke-width="1"><line x1="710" y1="1600" x2="710" y2="1620"/><line x1="716" y1="1600" x2="716" y2="1620"/><line x1="710" y1="1650" x2="710" y2="1670"/><line x1="716" y1="1650" x2="716" y2="1670"/></g>
<rect class="b" x="639" y="1551" width="35" height="35" rx="3"/><rect class="w" x="646" y="1558" width="9" height="18"/><rect class="dk" x="658" y="1553" width="4" height="30"/>
<rect class="b" x="639" y="1682" width="35" height="31" rx="3"/><rect class="w" x="646" y="1688" width="9" height="18"/><rect class="dk" x="658" y="1684" width="4" height="27"/>
<rect class="b" x="605" y="1585" width="85" height="97"/>
<path class="p" d="M638 1612 H680 V1630 H690 V1650 H670 V1660 H638 Z"/>
<line class="e" x1="558" y1="1536" x2="558" y2="1613"/><line class="e" x1="753" y1="1536" x2="753" y2="1553"/>
<line class="d" x1="558" y1="1542" x2="753" y2="1542"/><text class="l" x="655" y="1538">Emax(F5)</text>
<line class="e" x1="735" y1="1577" x2="772" y2="1577"/><line class="e" x1="735" y1="1693" x2="772" y2="1693"/>
<line class="d" x1="768" y1="1577" x2="768" y2="1693"/><text class="l" transform="rotate(-90 765 1635)" x="765" y="1635">b</text>
<line class="e" x1="602" y1="1682" x2="602" y2="1733"/><line class="e" x1="753" y1="1702" x2="753" y2="1748"/>
<line class="d" x1="602" y1="1728" x2="753" y2="1728"/><text class="l" x="678" y="1724">Cmax</text>
<line class="e" x1="572" y1="1650" x2="572" y2="1748"/>
<line class="d" x1="572" y1="1743" x2="753" y2="1743"/><text class="l" x="662" y="1738">Dmax(AX-3X)</text>
</g>

<!-- ========== SECTION 6 ========== -->
<g>
<line class="pin" x1="64" y1="1840" x2="64" y2="1858"/><line class="pin" x1="97" y1="1840" x2="97" y2="1858"/>
<line class="pin" x1="64" y1="1982" x2="64" y2="2000"/><line class="pin" x1="97" y1="1982" x2="97" y2="2000"/>
<rect x="34" y="1852" width="92" height="25" fill="#3d4045"/>
<rect x="34" y="1962" width="92" height="26" fill="#3d4045"/>
<rect x="31" y="1873" width="97" height="92" fill="#45484e"/>
<rect x="38" y="1853" width="19" height="20" fill="#d6d2c8"/><rect x="69" y="1853" width="19" height="20" fill="#d6d2c8"/><rect x="102" y="1853" width="19" height="20" fill="#d6d2c8"/>
<rect x="38" y="1967" width="19" height="20" fill="#d6d2c8"/><rect x="69" y="1967" width="19" height="20" fill="#d6d2c8"/><rect x="102" y="1967" width="19" height="20" fill="#d6d2c8"/>
<g class="nut"><circle cx="48" cy="1862" r="7"/><circle cx="78" cy="1862" r="7"/><circle cx="112" cy="1862" r="7"/><circle cx="48" cy="1975" r="7"/><circle cx="78" cy="1975" r="7"/><circle cx="112" cy="1975" r="7"/></g>
<rect x="35" y="1883" width="89" height="2" fill="#2f8ee0"/><rect x="37" y="1881" width="16" height="7" fill="#2a7fd4"/>
<circle cx="93" cy="1900" r="5" fill="#1e1f22"/><circle cx="64" cy="1938" r="5" fill="#1e1f22"/>
<rect x="70" y="1910" width="23" height="20" fill="#393c41"/><rect x="76" y="1912" width="11" height="13" fill="#2f86da"/>
<rect x="98" y="1915" width="23" height="17" fill="#7a7d82"/>
<rect x="31" y="1890" width="6" height="60" fill="#5a5d63"/><rect x="122" y="1890" width="6" height="60" fill="#5a5d63"/>
</g>
<g>
<line class="pin" x1="320" y1="1985" x2="320" y2="2001"/><line class="pin" x1="355" y1="1985" x2="355" y2="2001"/>
<rect class="b" x="308" y="1835" width="56" height="15" rx="2"/>
<rect class="b" x="282" y="1848" width="110" height="139" rx="4"/>
<rect class="dk" x="283" y="1880" width="9" height="75"/><rect class="dk" x="382" y="1880" width="9" height="75"/>
<g class="w"><circle cx="287" cy="1888" r="2.5"/><circle cx="287" cy="1905" r="2.5"/><circle cx="287" cy="1925" r="2.5"/><circle cx="287" cy="1945" r="2.5"/><circle cx="387" cy="1888" r="2.5"/><circle cx="387" cy="1905" r="2.5"/><circle cx="387" cy="1925" r="2.5"/><circle cx="387" cy="1945" r="2.5"/></g>
<rect class="p" x="292" y="1874" width="90" height="7"/>
<rect class="p" x="292" y="1880" width="90" height="75"/>
<rect class="p" x="292" y="1955" width="90" height="7"/>
<rect class="bl" x="293" y="1887" width="88" height="3"/><rect class="bl" x="294" y="1887" width="18" height="7"/>
<rect class="b" x="322" y="1902" width="27" height="33"/><circle class="p" cx="335" cy="1918" r="12"/>
<circle class="p" cx="354" cy="1896" r="4"/><circle class="p" cx="321" cy="1938" r="4"/>
<rect class="lg" x="287" y="1846" width="22" height="28" rx="4"/><rect class="lg" x="326" y="1846" width="22" height="28" rx="4"/><rect class="lg" x="364" y="1846" width="22" height="28" rx="4"/>
<rect class="lg" x="287" y="1962" width="22" height="25" rx="4"/><rect class="lg" x="326" y="1962" width="22" height="25" rx="4"/><rect class="lg" x="364" y="1962" width="22" height="25" rx="4"/>
<g class="w"><circle cx="298" cy="1858" r="6"/><circle cx="337" cy="1857" r="6"/><circle cx="375" cy="1858" r="6"/><circle cx="298" cy="1977" r="6"/><circle cx="337" cy="1977" r="6"/><circle cx="375" cy="1977" r="6"/></g>
<line class="e" x1="292" y1="1821" x2="292" y2="1850"/><line class="e" x1="381" y1="1821" x2="381" y2="1850"/>
<line class="d" x1="292" y1="1827" x2="381" y2="1827"/><text class="l" x="336" y="1823">a</text>
<line class="e" x1="364" y1="1835" x2="416" y2="1835"/><line class="e" x1="355" y1="2000" x2="416" y2="2000"/>
<line class="d" x1="412" y1="1835" x2="412" y2="2000"/><text class="l" transform="rotate(-90 409 1917)" x="409" y="1917">Bmax</text>
<line class="e" x1="282" y1="1987" x2="282" y2="2019"/><line class="e" x1="392" y1="1987" x2="392" y2="2019"/>
<line class="d" x1="282" y1="2014" x2="392" y2="2014"/><text class="l" x="337" y="2010">Amax</text>
<line class="e" x1="271" y1="1869" x2="290" y2="1869"/><line class="e" x1="287" y1="1869" x2="300" y2="1850"/><text class="l" x="276" y="1866">Φ</text>
</g>
<g>
<rect class="b" x="558" y="1900" width="48" height="33"/><rect class="dk" x="563" y="1906" width="6" height="21"/>
<rect class="b" x="688" y="1837" width="65" height="150"/>
<rect class="dk" x="725" y="1900" width="12" height="28"/>
<g stroke="#555" stroke-width="1"><line x1="710" y1="1885" x2="710" y2="1905"/><line x1="716" y1="1885" x2="716" y2="1905"/><line x1="710" y1="1935" x2="710" y2="1955"/><line x1="716" y1="1935" x2="716" y2="1955"/></g>
<rect class="b" x="639" y="1837" width="35" height="35" rx="3"/><rect class="w" x="646" y="1843" width="9" height="18"/><rect class="dk" x="658" y="1839" width="4" height="30"/>
<rect class="b" x="639" y="1968" width="35" height="34" rx="3"/><rect class="w" x="646" y="1975" width="9" height="18"/><rect class="dk" x="658" y="1970" width="4" height="29"/>
<rect class="b" x="605" y="1870" width="85" height="98"/>
<path class="p" d="M638 1897 H680 V1915 H690 V1935 H670 V1945 H638 Z"/>
<line class="e" x1="558" y1="1821" x2="558" y2="1900"/><line class="e" x1="753" y1="1821" x2="753" y2="1837"/>
<line class="d" x1="558" y1="1827" x2="753" y2="1827"/><text class="l" x="655" y="1822">Emax(F5)</text>
<line class="e" x1="735" y1="1862" x2="774" y2="1862"/><line class="e" x1="735" y1="1978" x2="774" y2="1978"/>
<line class="d" x1="770" y1="1862" x2="770" y2="1978"/><text class="l" transform="rotate(-90 767 1920)" x="767" y="1920">b</text>
<line class="e" x1="602" y1="1968" x2="602" y2="2019"/><line class="e" x1="753" y1="1987" x2="753" y2="2032"/>
<line class="d" x1="602" y1="2014" x2="753" y2="2014"/><text class="l" x="678" y="2010">Cmax</text>
<line class="e" x1="572" y1="1933" x2="572" y2="2032"/>
<line class="d" x1="572" y1="2027" x2="753" y2="2027"/><text class="l" x="667" y="2022">Dmax(AX-3X)</text>
</g>
</svg>
</body></html>
